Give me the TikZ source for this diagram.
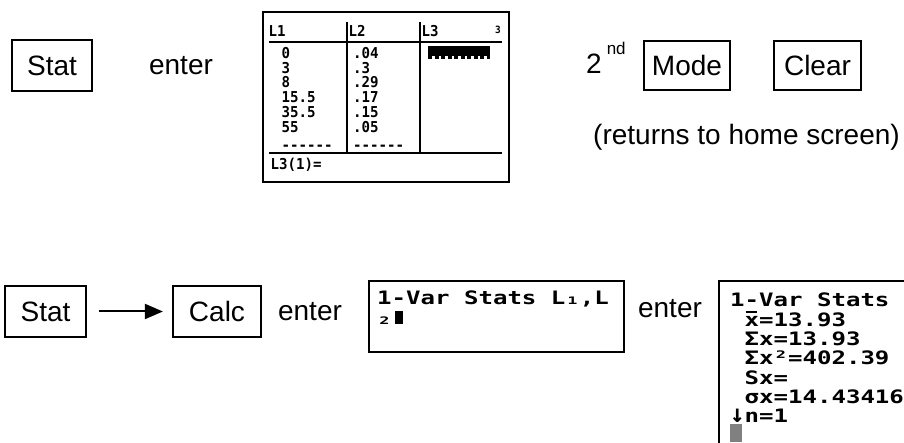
\documentclass[tikz,border=0pt]{standalone}
\usepackage{fontspec}
\usepackage{graphicx}
\setmainfont{Liberation Sans}
\newfontfamily\listfont[FakeStretch=0.94]{DejaVu Sans Mono}
\newfontfamily\calcfont[FakeStretch=1.3]{DejaVu Sans Mono}
\usetikzlibrary{arrows.meta}

\tikzset{
  key/.style={
    draw,
    line width=2.2pt,
    minimum width=81pt,
    minimum height=51pt,
    inner sep=0pt,
    font=\fontsize{28}{28}\selectfont
  },
  word/.style={
    inner sep=0pt,
    anchor=base,
    font=\fontsize{28}{28}\selectfont
  },
  screen/.style={
    draw,
    line width=2.2pt,
    inner sep=0pt
  },
  listtext/.style={
    inner sep=0pt,
    anchor=north west,
    align=left,
    font=\listfont\bfseries\fontsize{15}{14.8}\selectfont
  },
  calctext/.style={
    inner sep=0pt,
    anchor=north west,
    align=left,
    font=\calcfont\bfseries\fontsize{18.5}{19.3}\selectfont
  }
}

\newcommand{\calcbar}{\makebox[0pt][l]{\hspace{1pt}\rule[13pt]{11pt}{2pt}}}
\newcommand{\calcdown}{\makebox[14.5pt][c]{\scalebox{1}[1.35]{↓}}}

\begin{document}
\begin{tikzpicture}[x=1pt, y=-1pt]
  \useasboundingbox (0,0) rectangle (904,443);
  \clip (0,0) rectangle (904,443);

  \node[key, minimum width=80pt] (stat1) at (52,65.5) {Stat};
  \node[word] (enter1) at (181,75) {enter};

  \node[screen, minimum width=246pt, minimum height=170pt] (lists) at (386,97) {};
  \draw[line width=2.5pt] (269,42) -- (502,42);
  \draw[line width=2pt] (269,153) -- (502,153);
  \draw[line width=2pt] (347,22) -- (347,153);
  \draw[line width=2pt] (420,22) -- (420,153);
  \node[listtext, anchor=base west] (head1) at (268.5,37) {L1};
  \node[listtext, anchor=base west] (head2) at (348.5,37) {L2};
  \node[listtext, anchor=base west] (head3) at (421.5,37) {L3};
  \node[listtext, anchor=base west, font=\listfont\bfseries\fontsize{10}{10}\selectfont] (colnum) at (495,34) {3};
  \node[listtext] (col1) at (281.5,47) {0\\3\\8\\15.5\\35.5\\55\\[3pt]------};
  \node[listtext] (col2) at (353,47) {.04\\.3\\.29\\.17\\.15\\.05\\[3pt]------};
  \fill (428,46) rectangle (490,56);
  \draw[line width=3pt, dash pattern=on 4pt off 2.5pt] (428,57.5) -- (490,57.5);
  \node[listtext, anchor=base west] (entry) at (270.5,170) {L3(1)=};

  \node[word, anchor=base west] (second) at (586,74) {2\hspace{5pt}\raisebox{19pt}{\fontsize{17}{17}\selectfont nd}};
  \node[key, minimum width=86pt, minimum height=49pt] (mode) at (687,65.5) {Mode};
  \node[key, minimum width=87pt, minimum height=49pt] (clear) at (817.5,65.5) {Clear};
  \node[word, anchor=base west] (home) at (593,145) {(returns to home screen)};

  \node[key] (stat2) at (45.5,311.5) {Stat};
  \node[key, minimum width=88pt] (calc) at (217,311.5) {Calc};
  \draw[line width=2pt, -{Triangle[length=18pt, width=15pt]}, shorten <=12pt, shorten >=9pt] (stat2) -- (calc);
  \node[word] (enter2) at (310,320) {enter};

  \node[screen, minimum width=255pt, minimum height=71pt] (cmd) at (496.5,316.5) {};
  \node[calctext] (cmdtext) at (377,291) {1-Var Stats L₁,L\\₂\hspace{3pt}\rule{8pt}{13pt}};
  \node[word] (enter3) at (670,317) {enter};

  \node[screen, minimum width=230pt, minimum height=200pt, anchor=north west] (stats) at (718,280) {};
  \node[calctext] (statstext) at (730,293) {1-Var Stats\\\hphantom{1}\calcbar x=13.93\\\hphantom{1}Σx=13.93\\\hphantom{1}Σx²=402.39\\\hphantom{1}Sx=\\\hphantom{1}σx=14.43416\\\calcdown n=1\\\textcolor{gray}{\rule{12pt}{18pt}}};
\end{tikzpicture}
\end{document}
